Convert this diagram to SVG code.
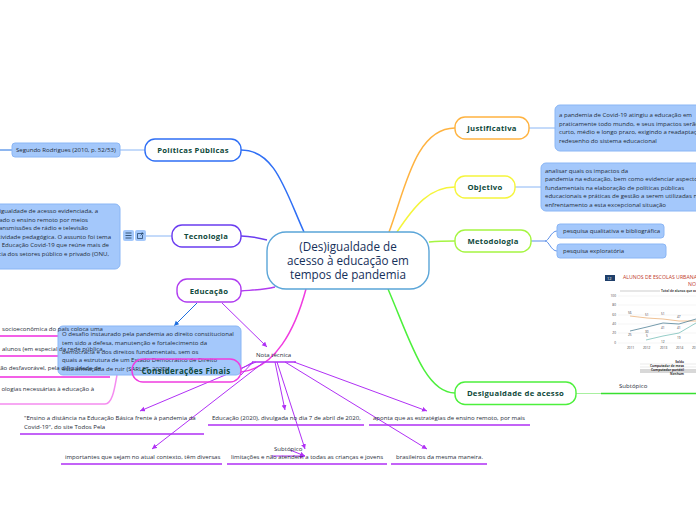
<svg xmlns="http://www.w3.org/2000/svg" width="696" height="520" viewBox="0 0 696 520">
<style>
text{font-family:"Open Sans","Noto Sans","DejaVu Sans",sans-serif}
.n rect{fill:#fff;stroke-width:1.4}
.n text{font-size:7.700px;font-weight:700;fill:#0f4a3c;text-anchor:middle;letter-spacing:.3px}
.n .m{font-size:11.700px;font-weight:500;fill:#16305a;letter-spacing:0}
.b{fill:#a4c8fb;stroke:#8ab6f5;stroke-width:1}
.t{font-size:6.050px;fill:#1f2c38}
.e{text-anchor:end}
.c{fill:none;stroke-width:1.5}
.l{fill:none;stroke-width:1}
.u{fill:none;stroke-width:1.6}
.a{stroke:#b030f5;stroke-width:1;fill:none;marker-end:url(#ap)}
.ct{font-size:3.200px;fill:#444}
</style>
<defs>
<marker id="ap" markerWidth="6" markerHeight="6" refX="5" refY="2.5" orient="auto" markerUnits="userSpaceOnUse"><path d="M0 0L5 2.500L0 5z" fill="#b030f5"/></marker>
<marker id="ab" markerWidth="6" markerHeight="6" refX="5" refY="2.5" orient="auto" markerUnits="userSpaceOnUse"><path d="M0 0L5 2.500L0 5z" fill="#1f6fe0"/></marker>
</defs>
<g id="connectors">
<path class="c" stroke="#ffb340" d="M389 232C405 190 415 128 455 128"/>
<path class="c" stroke="#f5f53c" d="M397 232C415 205 430 187 455 187"/>
<path class="c" stroke="#a5f542" d="M429 242C440 241 445 241 455 241"/>
<path class="c" stroke="#4df03c" d="M388 289C410 340 425 393 455 393"/>
<path class="c" stroke="#2f6ff5" d="M304 232C285 190 275 150 241 150"/>
<path class="c" stroke="#6a3cf0" d="M267 240C255 237 250 236 241 236"/>
<path class="c" stroke="#b03cf0" d="M275 287C262 290 252 290 241 291"/>
<path class="c" stroke="#f03ce0" d="M306 289C295 330 275 368 241 372"/>
<path class="l" stroke="#8ab6f5" d="M529 128H555"/>
<path class="l" stroke="#8ab6f5" d="M515 187H541"/>
<path class="l" stroke="#5a8ee8" d="M531 241H545C549 241 551 231 557 231M545 241C549 241 551 251 557 251"/>
<path class="l" stroke="#8ab6f5" d="M120 150H145"/>
<path class="l" stroke="#1f6fe0" d="M0 150H12"/>
<path class="l" stroke="#8ab6f5" d="M146 236H172"/>
<path d="M197 303L174 326" stroke="#1f6fe0" stroke-width="1" fill="none" marker-end="url(#ab)"/>
<path class="a" d="M222 303L267 347"/>
<path class="l" stroke="#b030f5" d="M241 369L253 362M241 375L253 362"/>
<path class="a" d="M256 362L140 411"/>
<path class="a" d="M264 362L152 449"/>
<path class="a" d="M275 362L285 410"/>
<path class="a" d="M277 362L305 449"/>
<path class="a" d="M294 362L427 411"/>
<path class="a" d="M285 362L427 449"/>
<path class="a" d="M272 456L305 456"/>
<path class="a" d="M290 450L305 456"/>
<path class="u" stroke="#f02ce0" d="M0 336H60M0 356H58M0 377H110"/>
<path class="c" stroke="#f58cf0" d="M0 404H105C113 404 115 385 117 375"/>
<path class="u" stroke="#b030f5" d="M252 362H296M20 434H204M208 425H364M369 425H530M61 464H222M227 464H387M391 464H487"/>
<path class="l" stroke="#a8f0a0" d="M576 393.500H601"/>
<path class="u" stroke="#38e030" d="M601 393.500H696"/>
</g>
<g id="centro" class="n"><rect x="267" y="232" width="162" height="57" rx="19" style="stroke:#5aa5d8"/>
<text class="m" x="348" y="251">(Des)igualdade de</text>
<text class="m" x="348" y="265">acesso à educação em</text>
<text class="m" x="348" y="279">tempos de pandemia</text></g>
<g id="justificativa" class="n"><rect x="455" y="117" width="74" height="22" rx="10" stroke="#ffb340"/><text x="492" y="131">Justificativa</text></g>
<g id="justificativa-texto"><rect class="b" x="555" y="105" width="150" height="46" rx="5"/>
<text class="t" x="559" y="117">a pandemia de Covid-19 atingiu a educação em</text>
<text class="t" x="559" y="126">praticamente todo mundo, e seus impactos serão</text>
<text class="t" x="559" y="134">curto, médio e longo prazo, exigindo a readaptação</text>
<text class="t" x="559" y="143">redesenho do sistema educacional</text></g>
<g id="objetivo" class="n"><rect x="455" y="176" width="60" height="22" rx="10" stroke="#f5f53c"/><text x="485" y="190">Objetivo</text></g>
<g id="objetivo-texto"><rect class="b" x="541" y="163" width="165" height="48" rx="5"/>
<text class="t" x="545" y="173">analisar quais os impactos da</text>
<text class="t" x="545" y="181">pandemia na educação, bem como evidenciar aspectos</text>
<text class="t" x="545" y="190">fundamentais na elaboração de políticas públicas</text>
<text class="t" x="545" y="198">educacionais e práticas de gestão a serem utilizadas no</text>
<text class="t" x="545" y="207">enfrentamento a esta excepcional situação</text></g>
<g id="metodologia" class="n"><rect x="455" y="230" width="76" height="22" rx="10" stroke="#a5f542"/><text x="493" y="244">Metodologia</text></g>
<g id="pesquisa-1"><rect class="b" x="557" y="224" width="107" height="14" rx="3"/><text class="t" x="563" y="233">pesquisa qualitativa e bibliográfica</text></g>
<g id="pesquisa-2"><rect class="b" x="557" y="244" width="109" height="14" rx="3"/><text class="t" x="563" y="253">pesquisa exploratória</text></g>
<g id="desigualdade" class="n"><rect x="455" y="382" width="121" height="22.500" rx="10" stroke="#4df03c"/><text x="515.500" y="396">Desigualdade de acesso</text></g>
<g id="subtopico-direita"><text class="t" x="619" y="388">Subtópico</text></g>
<g id="politicas" class="n"><rect x="145" y="139" width="96" height="22" rx="10" stroke="#2f6ff5"/><text x="193" y="153">Políticas Públicas</text></g>
<g id="rodrigues"><rect class="b" x="12" y="143" width="108" height="14" rx="3"/><text class="t" x="16" y="152">Segundo Rodrigues (2010, p. 52/53)</text></g>
<g id="tecnologia" class="n"><rect x="172" y="225" width="69" height="22" rx="10" stroke="#6a3cf0"/><text x="206" y="239">Tecnologia</text></g>
<g id="tecnologia-texto"><rect class="b" x="-10" y="204" width="130" height="65" rx="5"/>
<text class="t e" x="98" y="213">igualdade de acesso evidenciada, a</text>
<text class="t e" x="88" y="222">ado o ensino remoto por meios</text>
<text class="t e" x="88" y="230">ansmissões de rádio e televisão</text>
<text class="t e" x="111" y="239">tividade pedagógica. O assunto foi tema</text>
<text class="t e" x="109" y="247">Educação Covid-19 que reúne mais de</text>
<text class="t e" x="109" y="256">cia dos setores público e privado (ONU,</text>
<rect class="b" x="123" y="230" width="11" height="11" rx="2" style="stroke:none"/><rect class="b" x="135" y="230" width="11" height="11" rx="2" style="stroke:none"/>
<path d="M125.500 233H131.500M125.500 235.500H131.500M125.500 238H131.500" stroke="#1a3a5a" stroke-width=".8"/>
<path d="M142 233.500H137.500V238.500H142.500V235M140.500 235.500L143 233M141.500 233H143V234.500" stroke="#1a3a5a" stroke-width=".7" fill="none"/></g>
<g id="educacao" class="n"><rect x="177" y="279" width="64" height="23" rx="10" stroke="#b03cf0"/><text x="209" y="294">Educação</text></g>
<g id="desafio"><rect class="b" x="58" y="326" width="183" height="49" rx="5"/>
<text class="t" x="62" y="336">O desafio instaurado pela pandemia ao direito constitucional</text>
<text class="t" x="62" y="345">tem sido a defesa, manutenção e fortalecimento da</text>
<text class="t" x="62" y="354">democracia e dos direitos fundamentais, sem os</text>
<text class="t" x="62" y="362">quais a estrutura de um Estado Democrático de Direito</text>
<text class="t" x="62" y="371">está ameaçada de ruir (SARLET, 2020)</text></g>
<g id="esquerda-textos">
<text class="t" x="2" y="331">socioeconômica do país coloca uma</text>
<text class="t" x="2" y="351">alunos (em especial da rede pública,</text>
<text class="t e" x="101" y="370">ção desfavorável, pela dificuldade de</text>
<text class="t e" x="94" y="391">ologias necessárias à educação à</text></g>
<g id="consideracoes" class="n"><rect x="132" y="359" width="109" height="23" rx="11" stroke="#f03ce0" style="fill:none"/><text x="186" y="374" style="font-size:8px">Considerações Finais</text></g>
<g id="nota"><text class="t" x="256" y="357">Nota técnica</text></g>
<g id="ensino"><text class="t" x="24" y="420">"Ensino a distância na Educação Básica frente à pandemia da</text><text class="t" x="24" y="429">Covid-19", do site Todos Pela</text></g>
<g id="educacao-2020"><text class="t" x="212" y="420">Educação (2020), divulgada no dia 7 de abril de 2020,</text></g>
<g id="aponta"><text class="t" x="373" y="420">aponta que as estratégias de ensino remoto, por mais</text></g>
<g id="importantes"><text class="t" x="65" y="459">importantes que sejam no atual contexto, têm diversas</text></g>
<g id="subtopico"><text class="t" x="274" y="451">Subtópico</text></g>
<g id="limitacoes"><text class="t" x="231" y="459">limitações e não atendem a todas as crianças e jovens</text></g>
<g id="brasileiros"><text class="t" x="396" y="459">brasileiros da mesma maneira.</text></g>
<g id="grafico">
<rect x="605" y="275" width="10" height="6" fill="#1f3f6a"/><text x="607" y="280" style="font-size:4px;fill:#fff">12</text>
<text x="623" y="279" style="font-size:5.200px;fill:#c0392b">ALUNOS DE ESCOLAS URBANAS</text>
<text x="688" y="286" style="font-size:5.200px;fill:#c0392b">NO</text>
<path d="M620 291H660" stroke="#999" stroke-width=".5"/>
<text x="661" y="292" style="font-size:3.200px;font-weight:700;fill:#444">Total de alunos que acessam</text>
<path d="M618 296H696M618 305H696M618 315H696M618 324H696M618 333H696M618 343H696" stroke="#e4e4e4" stroke-width=".4"/>
<text class="ct" x="616" y="297" text-anchor="end">100</text><text class="ct" x="616" y="306" text-anchor="end">80</text><text class="ct" x="616" y="316" text-anchor="end">60</text><text class="ct" x="616" y="325" text-anchor="end">40</text><text class="ct" x="616" y="334" text-anchor="end">20</text><text class="ct" x="616" y="344" text-anchor="end">0</text>
<path d="M630 316L647 318L663 319L679 321L696 321" fill="none" stroke="#e8a868" stroke-width=".7"/>
<path d="M630 331L647 327L663 323L679 324L696 319" fill="none" stroke="#3a7088" stroke-width=".7"/>
<path d="M646 340L663 336L679 333L696 323" fill="none" stroke="#68b8b0" stroke-width=".7"/>
<text class="ct" x="628" y="314">56</text><text class="ct" x="645" y="316">51</text><text class="ct" x="661" y="315">51</text><text class="ct" x="677" y="318">47</text><text class="ct" x="628" y="336">25</text><text class="ct" x="645" y="333">30</text><text class="ct" x="661" y="329">41</text><text class="ct" x="677" y="329">41</text><text class="ct" x="646" y="337">5</text><text class="ct" x="661" y="343">12</text><text class="ct" x="677" y="339">19</text>
<text class="ct" x="627" y="349">2011</text><text class="ct" x="643" y="349">2012</text><text class="ct" x="660" y="349">2013</text><text class="ct" x="676" y="349">2014</text><text class="ct" x="692" y="349">2015</text>
<rect x="640" y="369" width="56" height="4" fill="#d8d8d8"/>
<path d="M640 364H696M640 367H696" stroke="#bbb" stroke-width=".3"/>
<g style="font-size:3.200px;font-weight:700;fill:#333" text-anchor="end"><text x="684" y="363">Saldo</text><text x="684" y="367">Computador de mesa</text><text x="684" y="371">Computador portátil</text><text x="684" y="375">Nenhum</text></g>
</g>
</svg>
